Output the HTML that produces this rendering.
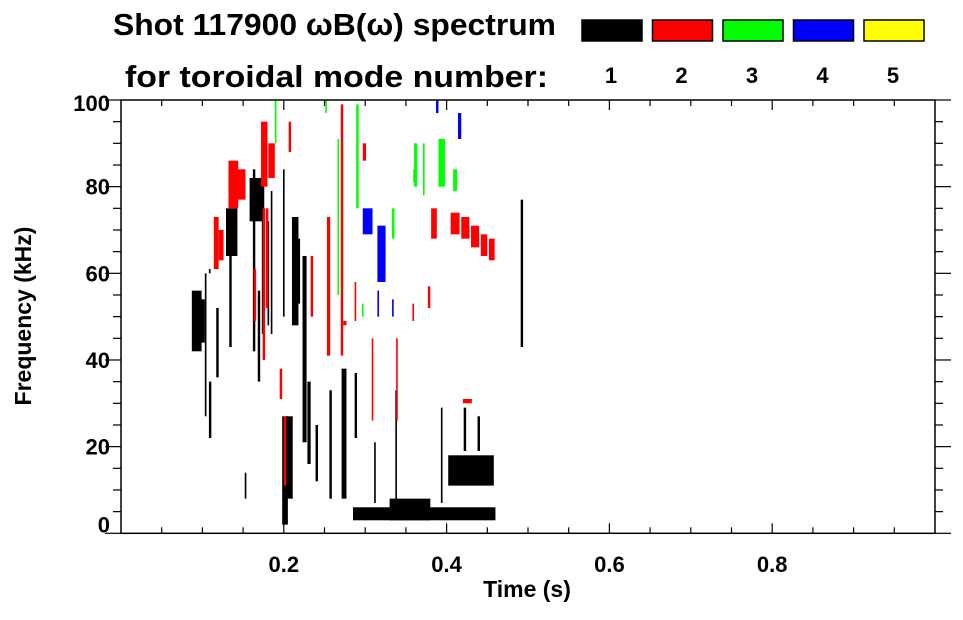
<!DOCTYPE html>
<html><head><meta charset="utf-8">
<style>
html,body{margin:0;padding:0;background:#fff;}
svg text{font-family:"Liberation Sans",Arial,sans-serif;font-weight:bold;}
</style></head>
<body>
<svg id="chart" width="963" height="615" viewBox="0 0 963 615" xmlns="http://www.w3.org/2000/svg">
<g>
<text x="113" y="35" font-size="31" textLength="443" lengthAdjust="spacingAndGlyphs">Shot 117900 ωB(ω) spectrum</text>
<text x="125" y="87" font-size="31" textLength="423" lengthAdjust="spacingAndGlyphs">for toroidal mode number:</text>
</g>
<g id="legend"></g>
<g id="marks"></g>
<g id="axes"></g>
<text x="527" y="597" font-size="23" text-anchor="middle">Time (s)</text>
<text transform="translate(31,316) rotate(-90)" font-size="23" text-anchor="middle">Frequency (kHz)</text>
</svg>
<script>
// mode legend
const modeNumbers = [1,2,3,4,5];
const modeColors = ['#000000','#ff0000','#00ff00','#0000ff','#ffff00'];
// spectral streaks: start time (s), end time (s), low freq (kHz), high freq (kHz), mode index
const tStart = [0.087,0.094,0.103,0.108,0.117,0.133,0.129,0.158,0.162,0.168,0.173,0.180,0.184,0.199,0.210,0.214,0.223,0.229,0.198,0.203,0.239,0.256,0.271,0.287,0.285,0.330,0.402,0.421,0.438,0.311,0.337,0.393,0.491,0.152,0.108,
  0.114,0.120,0.132,0.142,0.172,0.181,0.163,0.206,0.174,0.178,0.195,0.200,0.233,0.253,0.270,0.273,0.287,0.308,0.338,0.358,0.377,0.381,0.405,0.418,0.430,0.442,0.452,0.420,0.297,
  0.189,0.251,0.266,0.289,0.296,0.333,0.360,0.371,0.390,0.408,0.359,
  0.297,0.315,0.322,0.333,0.387,0.414,0.315];
const tEnd = [0.099,0.103,0.105,0.111,0.120,0.136,0.143,0.176,0.165,0.171,0.175,0.182,0.186,0.201,0.218,0.220,0.228,0.233,0.205,0.211,0.242,0.259,0.277,0.290,0.460,0.380,0.458,0.424,0.441,0.313,0.339,0.395,0.494,0.154,0.110,
  0.120,0.126,0.144,0.153,0.180,0.189,0.166,0.209,0.177,0.181,0.198,0.203,0.236,0.257,0.273,0.277,0.289,0.310,0.340,0.360,0.380,0.388,0.416,0.428,0.440,0.450,0.459,0.431,0.301,
  0.191,0.253,0.268,0.292,0.298,0.336,0.364,0.373,0.398,0.413,0.361,
  0.309,0.325,0.325,0.335,0.390,0.418,0.317];
const fLow = [42,44,27,22,36,43,64,72,42,35,46,48,46,50,48,53,21,16,2,8,12,8,8,22,3,3,11,19,19,7,7,7,43,8,60,
  61,63,75,77,80,82,49,88,40,52,31,11,50,41,41,48,49,26,26,49,52,68,69,68,66,64,63,30,86,
  90,97,55,75,50,68,80,78,80,79,81,
  69,58,61,50,97,91,50];
const fHigh = [56,54,60,35,52,73,75,82,84,56,75,72,79,84,73,68,64,35,27,27,25,33,38,37,6,8,18,29,27,21,33,29,77,14,61,
  73,70,86,84,95,90,61,95,75,75,38,27,64,73,99,49,58,45,45,53,57,75,74,73,71,69,68,31,90,
  100,100,91,99,53,75,90,90,91,84,84,
  75,71,70,54,100,97,56];
const modeIdx = [0,0,0,0,0,0,0,0,0,0,0,0,0,0,0,0,0,0,0,0,0,0,0,0,0,0,0,0,0,0,0,0,0,0,0,
  1,1,1,1,1,1,1,1,1,1,1,1,1,1,1,1,1,1,1,1,1,1,1,1,1,1,1,1,1,
  2,2,2,2,2,2,2,2,2,2,2,
  3,3,3,3,3,3,3];
// axis ticks
const xTickVals = [0.2,0.4,0.6,0.8];
const xTickLabels = ['0.2','0.4','0.6','0.8'];
const yTickVals = [0,20,40,60,80,100];
const yTickLabels = ['0','20','40','60','80','100'];

const NS='http://www.w3.org/2000/svg';
const X0=121, X1=935, Y0=533.3, Y1=100;
function xs(t){return X0 + t*(X1-X0)/1.0;}
function ys(f){return Y0 - f*(Y0-Y1)/100;}
function mk(tag,attrs,parent){const e=document.createElementNS(NS,tag);for(const k in attrs)e.setAttribute(k,attrs[k]);parent.appendChild(e);return e;}

const legend=document.getElementById('legend');
modeNumbers.forEach((m,i)=>{
  const bx=582+i*70.5;
  const r=mk('rect',{x:bx,y:20,width:60,height:21,fill:modeColors[i],stroke:'#000','stroke-width':1.5},legend);
  
  
  const t=mk('text',{x:bx+29,y:83,'font-size':22,'text-anchor':'middle'},legend);
  t.textContent=m;
  
  
});

const marks=document.getElementById('marks');
for(let i=0;i<tStart.length;i++){
  const x=xs(tStart[i]), w=Math.max(1,xs(tEnd[i])-x);
  const y=ys(fHigh[i]), h=Math.max(1,ys(fLow[i])-y);
  const r=mk('rect',{x:x,y:y,width:w,height:h,fill:modeColors[modeIdx[i]]},marks);
  
  
}

const axes=document.getElementById('axes');
mk('rect',{x:X0,y:Y1,width:X1-X0,height:Y0-Y1,fill:'none',stroke:'#000','stroke-width':1.5},axes);
for(let k=1;k<20;k++){
  const t=k*0.05, x=xs(t), L=(k%4===0)?10:6;
  mk('line',{x1:x,y1:Y0,x2:x,y2:Y0-L,stroke:'#000','stroke-width':1.2},axes);
  mk('line',{x1:x,y1:Y1,x2:x,y2:Y1+L,stroke:'#000','stroke-width':1.2},axes);
}
for(let k=0;k<=20;k++){
  const f=k*5, y=ys(f), L=(k%4===0)?16:8;
  mk('line',{x1:X0,y1:y,x2:X0-L,y2:y,stroke:'#000','stroke-width':1.2},axes);
  mk('line',{x1:X1,y1:y,x2:X1+L,y2:y,stroke:'#000','stroke-width':1.2},axes);
}
xTickVals.forEach((v,i)=>{
  const t=mk('text',{x:xs(v),y:572,'font-size':22,'text-anchor':'middle'},axes);
  t.textContent=xTickLabels[i];
  
  
});
yTickVals.forEach((v,i)=>{
  let y=ys(v)+8; if(v===0)y-=9; if(v===100)y+=3;
  const t=mk('text',{x:110,y:y,'font-size':22,'text-anchor':'end'},axes);
  t.textContent=yTickLabels[i];
  
  
});
</script>
</body></html>
